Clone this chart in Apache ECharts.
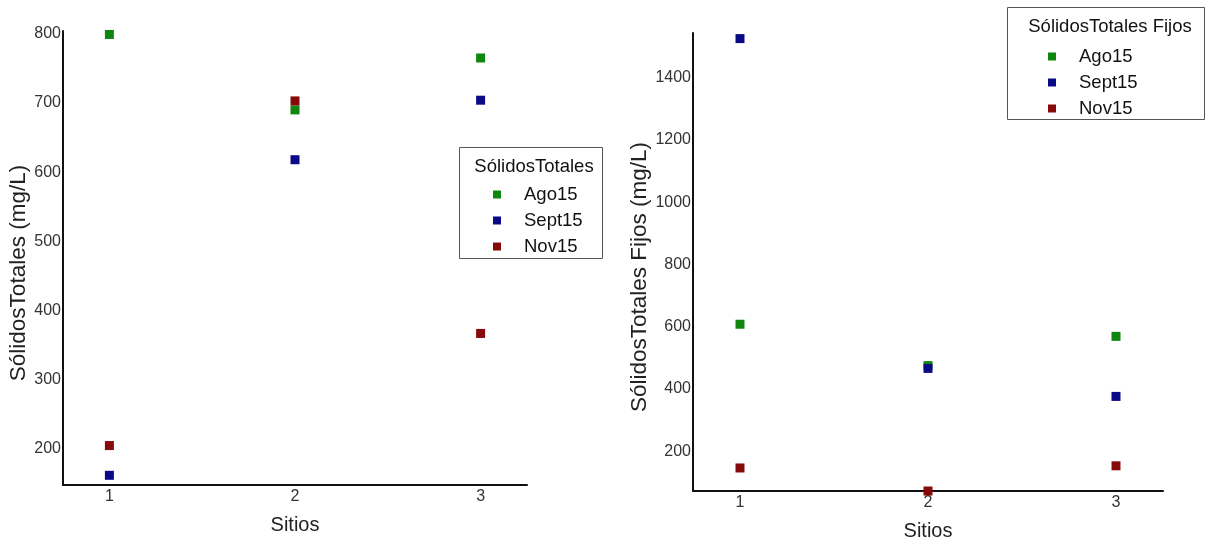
<!DOCTYPE html>
<html>
<head>
<meta charset="utf-8">
<script src="https://cdn.jsdelivr.net/npm/echarts@6/dist/echarts.min.js"></script>
<style>html,body{margin:0;padding:0;background:#fff}#c{width:1211px;height:548px}</style>
</head>
<body>
<div id="c"></div>
<script>
// ---- data ----
const sites = [1, 2, 3];
const months = ['Ago15', 'Sept15', 'Nov15'];
// Sólidos Totales (mg/L)
const stAgo15 = [799, 690, 765];
const stSept15 = [162, 618, 704];
const stNov15 = [205, 703, 367];
// Sólidos Totales Fijos (mg/L)
const stfAgo15 = [608, 475, 569];
const stfSept15 = [1526, 466, 376];
const stfNov15 = [146, 72, 153];
const leftTitle = 'SólidosTotales';
const rightTitle = 'SólidosTotales Fijos';
const leftYName = 'SólidosTotales (mg/L)';
const rightYName = 'SólidosTotales Fijos (mg/L)';
const xName = 'Sitios';

const colors = ['#0f870f', '#0a0a87', '#870a0a'];
const FONT = '"Liberation Sans", Arial, sans-serif';

function pts(vals) { return sites.map((s, i) => [s, vals[i]]); }

const chart = echarts.init(document.getElementById('c'), null, {renderer: 'canvas'});

function xAxisDef(gi) {
  return {
    type: 'value', gridIndex: gi, min: 0.75, max: 3.25, interval: 0.25,
    name: xName, nameLocation: 'middle', nameGap: 30,
    nameTextStyle: {fontFamily: FONT, fontSize: 20, color: '#222'},
    axisLine: {show: true, lineStyle: {color: '#111', width: 2}},
    axisTick: {show: false}, splitLine: {show: false},
    axisLabel: {margin: 4, fontFamily: FONT, fontSize: 16, color: '#333',
      formatter: v => Number.isInteger(v) ? String(v) : ''}
  };
}
function yAxisDef(gi, min, max, interval, step, gap, name) {
  return {
    type: 'value', gridIndex: gi, min: min, max: max, interval: interval,
    name: name, nameLocation: 'middle', nameGap: gap,
    nameTextStyle: {fontFamily: FONT, fontSize: 22.5, color: '#222', padding: [0, 30, 0, 0]},
    axisLine: {show: true, lineStyle: {color: '#111', width: 2}},
    axisTick: {show: false}, splitLine: {show: false},
    axisLabel: {margin: 2, fontFamily: FONT, fontSize: 16, color: '#333',
      formatter: v => (v % step === 0) ? String(v) : ''}
  };
}
function series(gi, name, vals, color) {
  return {
    type: 'scatter', name: name, xAxisIndex: gi, yAxisIndex: gi,
    data: pts(vals), symbol: 'rect', symbolSize: 9,
    itemStyle: {color: color, opacity: 1}, clip: false
  };
}

chart.setOption({
  animation: false,
  backgroundColor: '#fff',
  grid: [
    {left: 63, top: 31, width: 464, height: 454},
    {left: 693, top: 33, width: 470, height: 458}
  ],
  xAxis: [xAxisDef(0), xAxisDef(1)],
  yAxis: [
    yAxisDef(0, 148, 804, 4, 100, 30, leftYName),
    yAxisDef(1, 72, 1544, 8, 200, 40, rightYName)
  ],
  legend: [
    {data: months, orient: 'vertical', left: 488, top: 180, itemWidth: 8, itemHeight: 8,
     itemGap: 7, icon: 'rect', selectedMode: false, itemStyle: {opacity: 1},
     textStyle: {fontFamily: FONT, fontSize: 18.5, color: '#111', padding: [0, 0, 0, 18]}},
    {data: months, orient: 'vertical', left: 1043, top: 42, itemWidth: 8, itemHeight: 8,
     itemGap: 7, icon: 'rect', selectedMode: false, itemStyle: {opacity: 1},
     textStyle: {fontFamily: FONT, fontSize: 18.5, color: '#111', padding: [0, 0, 0, 18]}}
  ],
  graphic: [
    {type: 'rect', shape: {x: 459.5, y: 147.5, width: 143, height: 111},
     style: {fill: 'rgba(0,0,0,0)', stroke: '#555', lineWidth: 1}, z: 1},
    {type: 'text', x: 534, y: 167, style: {text: leftTitle, fontFamily: FONT, fontSize: 18.5,
     fill: '#111', textAlign: 'center', textVerticalAlign: 'middle'}},
    {type: 'rect', shape: {x: 1007.5, y: 7.5, width: 197, height: 112},
     style: {fill: 'rgba(0,0,0,0)', stroke: '#555', lineWidth: 1}, z: 1},
    {type: 'text', x: 1110, y: 27, style: {text: rightTitle, fontFamily: FONT, fontSize: 18.5,
     fill: '#111', textAlign: 'center', textVerticalAlign: 'middle'}}
  ],
  series: [
    series(0, months[0], stAgo15, colors[0]),
    series(0, months[1], stSept15, colors[1]),
    series(0, months[2], stNov15, colors[2]),
    series(1, months[0], stfAgo15, colors[0]),
    series(1, months[1], stfSept15, colors[1]),
    series(1, months[2], stfNov15, colors[2])
  ]
});
</script>
</body>
</html>
